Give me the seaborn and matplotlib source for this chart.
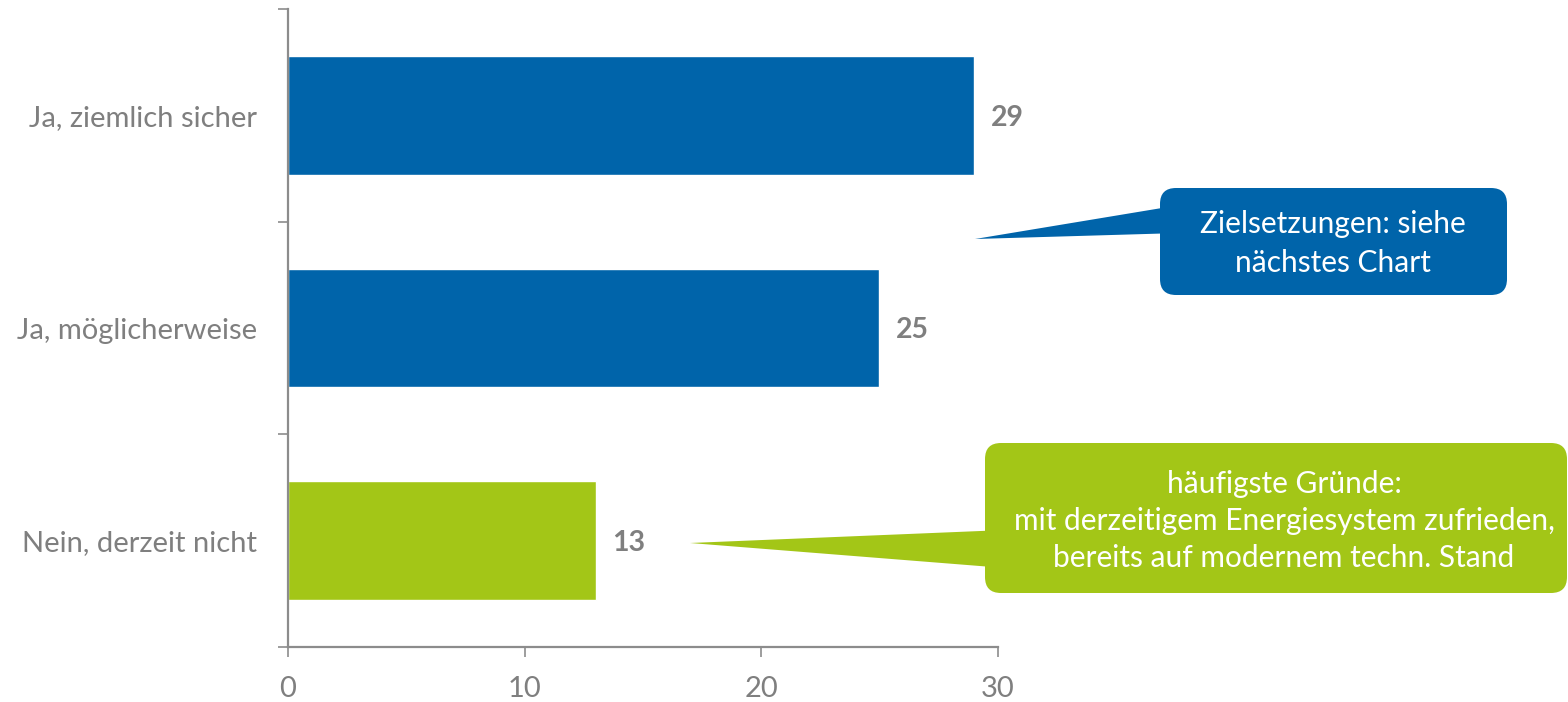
import matplotlib
matplotlib.use("Agg")
import matplotlib.pyplot as plt
import matplotlib.transforms as mtransforms
from matplotlib.patches import FancyBboxPatch, Polygon
import seaborn as sns
import pandas as pd

# ---- data ----
categories = ["Ja, ziemlich sicher", "Ja, möglicherweise", "Nein, derzeit nicht"]
values = [29, 25, 13]
bar_colors = ["#0064AA", "#0064AA", "#A3C617"]
x_ticks = [0, 10, 20, 30]
callout_blue_lines = ["Zielsetzungen: siehe", "nächstes Chart"]
callout_green_lines = ["häufigste Gründe:",
                       "mit derzeitigem Energiesystem zufrieden,",
                       "bereits auf modernem techn. Stand"]

W, H, DPI = 1568, 702, 100
sns.set_theme(style="white")
plt.rcParams["font.family"] = ["Lato", "DejaVu Sans"]
GRAY = "#7F7F7F"
SPINE = "#8C8C8C"

fig = plt.figure(figsize=(W / DPI, H / DPI), dpi=DPI)
ax = fig.add_axes([288 / W, (H - 647) / H, (997.7 - 288) / W, (647 - 9) / H])

df = pd.DataFrame({"cat": categories, "val": values})
sns.barplot(data=df, x="val", y="cat", hue="cat", palette=bar_colors,
            width=0.557, orient="h", legend=False, ax=ax, saturation=1)

ax.set_xlim(0, 30)
ax.set_ylim(2.5, -0.5)
ax.set_xlabel("")
ax.set_ylabel("")

for s in ["top", "right"]:
    ax.spines[s].set_visible(False)
for s in ["left", "bottom"]:
    ax.spines[s].set_color(SPINE)
    ax.spines[s].set_linewidth(1.6)

ax.set_xticks(x_ticks)
ax.set_xticklabels([str(t) for t in x_ticks])
ax.tick_params(axis="x", which="major", direction="out", length=7, width=1.2,
               color=SPINE, labelcolor=GRAY, labelsize=21, pad=14, bottom=True)
ax.set_yticks(range(len(categories)))
ax.set_yticklabels(categories)
ax.set_yticks([-0.5, 0.5, 1.5, 2.5], minor=True)
ax.tick_params(axis="y", which="major", length=0, labelcolor=GRAY,
               labelsize=21, pad=22, left=True)
ax.tick_params(axis="y", which="minor", direction="out", length=7, width=1.2,
               color=SPINE, left=True)

for i, v in enumerate(values):
    ax.text(v + 0.7, i, str(v), ha="left", va="center_baseline", fontsize=20.5,
            fontweight="bold", color=GRAY)

# ---- callouts (pixel layout, origin top-left) ----
T = mtransforms.Affine2D().scale(1 / W, -1 / H).translate(0, 1) + fig.transFigure


def callout(x0, y0, x1, y1, tip, base_y0, base_y1, color, lines, cx, ys):
    box = FancyBboxPatch((x0, y0), x1 - x0, y1 - y0,
                         boxstyle="round,pad=0,rounding_size=16",
                         transform=T, facecolor=color, edgecolor="none",
                         clip_on=False, zorder=3)
    fig.patches.append(box)
    tri = Polygon([tip, (x0 + 20, base_y0), (x0 + 20, base_y1)], closed=True,
                  transform=T, facecolor=color, edgecolor="none",
                  clip_on=False, zorder=3)
    fig.patches.append(tri)
    for line, y in zip(lines, ys):
        fig.text(cx / W, 1 - y / H, line, ha="center", va="center",
                 color="white", fontsize=21.5, zorder=4)


callout(1160, 188, 1507, 295, (975, 239), 205, 233, "#0064AA",
        callout_blue_lines, 1333, [224, 263])
callout(985, 443, 1567, 593, (690, 543), 530, 568, "#A3C617",
        callout_green_lines, 1284, [484, 521, 558])

fig.savefig("out.png", dpi=DPI)
